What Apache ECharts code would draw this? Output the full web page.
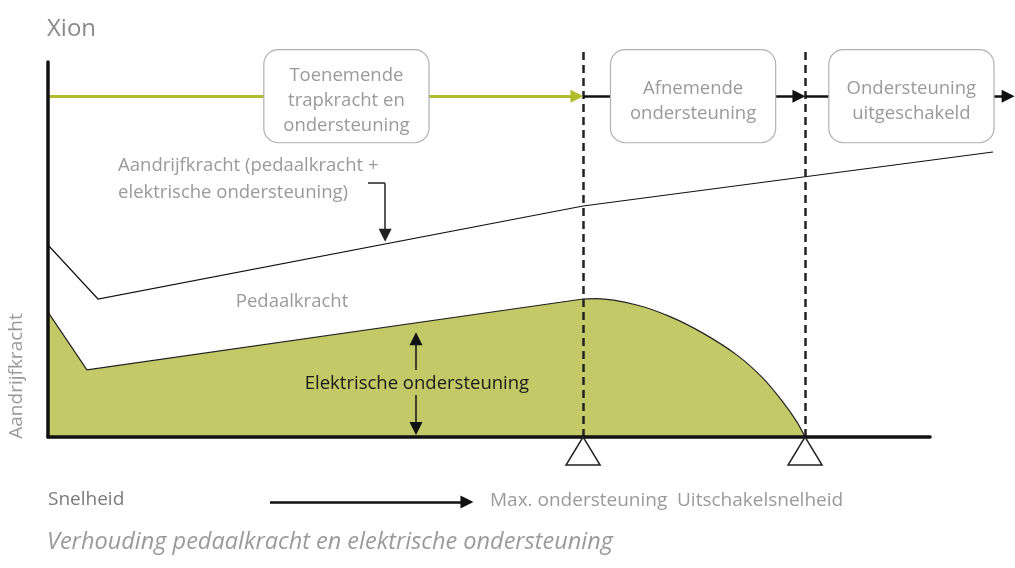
<!DOCTYPE html>
<html>
<head>
<meta charset="utf-8">
<script src="https://cdn.jsdelivr.net/npm/echarts@6/dist/echarts.min.js"></script>
<style>
  html, body { margin: 0; padding: 0; background: #fff; }
  #chart { width: 1015px; height: 568px; }
</style>
</head>
<body>
<div id="chart"></div>
<script>
// ---- data (speed on x, drive force on y; arbitrary units) ----
const maxSupportSpeed = 21.84;
const cutoffSpeed = 30.9;
const phaseLevel = 90.9;
const speedEnd = 39.39;

// electric support / pedal force boundary (green area): rising part and falling part
const supportRise = [[0, 33.3], [1.59, 17.9], [21.84, 36.8]];
const supportFall = [
  [21.84, 36.8], [22.4, 36.9], [24.03, 35.2], [25.39, 32.1], [26.73, 27.7],
  [28.11, 21.9], [29.18, 15.7], [30.00, 9.3], [30.56, 4.1], [30.9, 0]
];
// total drive force (pedal force + electric support)
const driveCurve = [[0, 51.2], [2.04, 36.8], [21.84, 61.6], [38.57, 76.0]];

const phaseLabels = [
  'Toenemende\ntrapkracht en\nondersteuning',
  'Afnemende\nondersteuning',
  'Ondersteuning\nuitgeschakeld'
];
const phaseCenters = [12.18, 26.33, 35.24];
const markerLabels = ['Max. ondersteuning', 'Uitschakelsnelheid'];

const FONT = 'Open Sans';
const GREY = '#9a9a9a';
const GREEN_FILL = '#c3c967';

const chart = echarts.init(document.getElementById('chart'));

const seg = (coords, color, width) => ({
  coords: coords,
  lineStyle: { color: color, width: width, opacity: 1 }
});

chart.setOption({
  animation: false,
  backgroundColor: '#fff',
  textStyle: { fontFamily: FONT },
  grid: { left: 48, right: 85, top: 62, bottom: 131 },
  xAxis: {
    type: 'value', min: 0, max: 36, z: 6,
    axisLine: { show: true, lineStyle: { color: '#111', width: 3.5 } },
    axisTick: { show: false }, axisLabel: { show: false }, splitLine: { show: false }
  },
  yAxis: {
    type: 'value', min: 0, max: 100, z: 6,
    axisLine: { show: true, lineStyle: { color: '#111', width: 3.5 } },
    axisTick: { show: false }, axisLabel: { show: false }, splitLine: { show: false }
  },
  graphic: [
    { type: 'text', left: 47, top: 17, style: { text: 'Xion', font: '24px "' + FONT + '"', fill: '#8a8a8a' } },
    { type: 'text', x: 17, y: 376, rotation: Math.PI / 2, originX: 0, originY: 0,
      style: { text: 'Aandrijfkracht', font: '19px "' + FONT + '"', fill: GREY, textAlign: 'center', textVerticalAlign: 'middle' } },
    { type: 'text', left: 48, top: 490, style: { text: 'Snelheid', font: '19px "' + FONT + '"', fill: '#7a7a7a' } },
    { type: 'text', left: 490, top: 491, style: { text: markerLabels[0], font: '19px "' + FONT + '"', fill: GREY } },
    { type: 'text', left: 677, top: 491, style: { text: markerLabels[1], font: '19px "' + FONT + '"', fill: GREY } },
    { type: 'text', left: 47, top: 531, style: { text: 'Verhouding pedaalkracht en elektrische ondersteuning', font: 'italic 23.5px "' + FONT + '"', fill: GREY } }
  ],
  series: [
    {
      type: 'line', data: supportRise, symbol: 'none', z: 2,
      lineStyle: { color: '#222', width: 1.2 },
      areaStyle: { color: GREEN_FILL, opacity: 1 }
    },
    {
      type: 'line', data: supportFall, symbol: 'none', z: 2,
      smooth: 0.3,
      lineStyle: { color: '#222', width: 1.2 },
      areaStyle: { color: GREEN_FILL, opacity: 1 }
    },
    {
      // total drive force line (extends past the axis end, so drawn unclipped)
      type: 'lines', coordinateSystem: 'cartesian2d', clip: false, z: 2,
      polyline: true, symbol: 'none',
      data: [seg(driveCurve, '#111', 1.2)]
    },
    {
      type: 'lines', coordinateSystem: 'cartesian2d', clip: false, z: 3,
      symbol: 'none',
      lineStyle: { color: '#222', width: 2.5, type: [8, 5], opacity: 1 },
      data: [
        { coords: [[maxSupportSpeed, 0], [maxSupportSpeed, 104]] },
        { coords: [[cutoffSpeed, 0], [cutoffSpeed, 104]] }
      ]
    },
    {
      // plain connector segment of the pointer
      type: 'lines', coordinateSystem: 'cartesian2d', clip: false, z: 4,
      symbol: 'none',
      data: [seg([[13.06, 67.7], [13.76, 67.7]], '#222', 1.5)]
    },
    {
      type: 'lines', coordinateSystem: 'cartesian2d', clip: false, z: 4,
      symbol: ['none', 'triangle'], symbolSize: 13,
      data: [
        seg([[0, phaseLevel], [maxSupportSpeed - 0.25, phaseLevel]], '#b0bc2c', 3),
        seg([[maxSupportSpeed, phaseLevel], [cutoffSpeed - 0.25, phaseLevel]], '#111', 2.5),
        seg([[cutoffSpeed, phaseLevel], [speedEnd - 0.2, phaseLevel]], '#111', 2.5),
        seg([[13.76, 67.7], [13.76, 53.8]], '#222', 1.5),
        seg([[15.02, 17.9], [15.02, 26.2]], '#111', 1.5),
        seg([[15.02, 11.2], [15.02, 2.3]], '#111', 1.5),
        seg([[9.06, -17.3], [17.1, -17.3]], '#111', 2.5)
      ]
    },
    {
      type: 'scatter', z: 8, clip: false,
      symbol: 'triangle', symbolSize: [34, 28], symbolOffset: [0, 14],
      itemStyle: { color: '#fff', borderColor: '#222', borderWidth: 1.5, opacity: 1 },
      data: [[maxSupportSpeed, 0], [cutoffSpeed, 0]]
    },
    {
      // phase boxes (rounded frames)
      type: 'scatter', z: 9, clip: false, symbolSize: 1,
      itemStyle: { color: 'rgba(0,0,0,0)', opacity: 1 },
      label: {
        show: true, position: 'inside', fontSize: 12, align: 'center', verticalAlign: 'middle',
        width: 164, height: 92, backgroundColor: '#fff',
        borderColor: '#b0b0b0', borderWidth: 1.2, borderRadius: 14,
        formatter: ' '
      },
      data: phaseCenters.map((x) => [x, phaseLevel])
    },
    {
      // phase box texts
      type: 'scatter', z: 10, clip: false, symbolSize: 1,
      itemStyle: { color: 'rgba(0,0,0,0)', opacity: 1 },
      label: {
        show: true, position: 'inside', color: GREY, fontSize: 18.5, fontFamily: FONT,
        lineHeight: 25, align: 'center', verticalAlign: 'middle', offset: [0, 5],
        formatter: (p) => phaseLabels[p.dataIndex]
      },
      data: phaseCenters.map((x) => [x, phaseLevel])
    },
    {
      type: 'scatter', z: 9, clip: false, symbolSize: 1,
      itemStyle: { color: 'rgba(0,0,0,0)', opacity: 1 },
      label: { show: true, position: 'inside', fontFamily: FONT, fontSize: 18.5, lineHeight: 27 },
      data: [
        { value: [2.86, 68.8], label: { align: 'left', color: GREY, formatter: 'Aandrijfkracht (pedaalkracht +\nelektrische ondersteuning)' } },
        { value: [9.96, 36.0], label: { align: 'center', color: GREY, formatter: 'Pedaalkracht' } },
        { value: [15.06, 14.1], label: { align: 'center', color: '#1a1a1a', formatter: 'Elektrische ondersteuning' } }
      ]
    }
  ]
});
</script>
</body>
</html>
